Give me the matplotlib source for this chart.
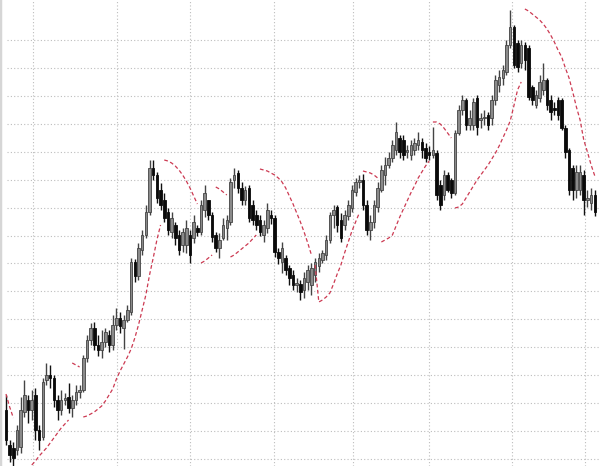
import numpy as np
import matplotlib
matplotlib.use("Agg")
import matplotlib.pyplot as plt

# OHLC (price units, grid step = 27.93)
opens = [90, 55, 52, 50, 53, 88, 100, 90, 105, 70,
         63, 120, 125, 122, 100, 90, 100, 103, 92, 100,
         108, 110, 142, 160, 172, 155, 150, 158, 165, 155,
         175, 182, 172, 180, 188, 238, 224, 250, 265, 288,
         332, 325, 310, 300, 288, 268, 275, 265, 255, 255,
         265, 262, 272, 268, 290, 300, 285, 265, 252, 262,
         272, 278, 320, 327, 312, 300, 312, 295, 285, 280,
         265, 272, 285, 282, 248, 238, 242, 232, 225, 215,
         216, 210, 218, 215, 225, 234, 240, 245, 260, 285,
         293, 280, 275, 284, 292, 308, 318, 320, 295, 270,
         278, 293, 310, 325, 335, 342, 350, 362, 360, 348,
         345, 350, 355, 358, 352, 348, 345, 347, 315, 305,
         325, 320, 307, 367, 390, 400, 375, 375, 402, 380,
         382, 385, 382, 400, 415, 422, 428, 455, 473, 457,
         437, 455, 452, 413, 395, 402, 410, 420, 400, 392,
         400, 400, 372, 350, 332, 310, 310, 325, 300, 297, 305]
closes = [60, 45, 42, 70, 90, 105, 90, 100, 70, 60,
          118, 125, 122, 100, 90, 100, 102, 92, 100, 108,
          110, 142, 160, 172, 155, 150, 158, 168, 155, 175,
          182, 174, 180, 190, 238, 224, 252, 265, 288, 332,
          325, 302, 295, 282, 270, 282, 262, 250, 268, 272,
          245, 278, 268, 295, 307, 285, 263, 252, 260, 275,
          280, 318, 325, 312, 300, 310, 282, 280, 275, 268,
          275, 290, 282, 248, 242, 252, 230, 222, 215, 217,
          208, 222, 230, 232, 238, 242, 247, 260, 285, 290,
          275, 262, 285, 295, 310, 318, 320, 295, 270, 278,
          295, 312, 330, 335, 342, 355, 368, 348, 345, 350,
          355, 357, 360, 350, 342, 345, 350, 305, 295, 325,
          310, 307, 367, 390, 400, 375, 382, 398, 373, 382,
          383, 375, 400, 420, 423, 430, 455, 473, 435, 433,
          455, 440, 403, 400, 405, 418, 420, 395, 388, 390,
          385, 372, 348, 310, 310, 328, 328, 300, 302, 305, 288]
highs = [105, 60, 58, 75, 103, 120, 105, 110, 112, 75,
         122, 137, 135, 125, 105, 110, 107, 117, 105, 115,
         115, 145, 165, 177, 178, 165, 170, 172, 170, 185,
         192, 188, 185, 195, 242, 241, 257, 270, 295, 340,
         340, 328, 317, 307, 292, 288, 278, 270, 272, 280,
         270, 285, 275, 300, 315, 300, 288, 268, 267, 282,
         285, 322, 332, 330, 318, 314, 315, 300, 290, 285,
         280, 297, 290, 285, 252, 258, 245, 235, 230, 222,
         220, 228, 235, 237, 242, 247, 250, 265, 288, 295,
         295, 287, 290, 300, 315, 322, 325, 326, 300, 285,
         300, 318, 335, 343, 348, 360, 378, 365, 365, 355,
         360, 362, 368, 362, 357, 354, 373, 350, 320, 330,
         328, 322, 370, 395, 405, 402, 390, 402, 405, 387,
         390, 388, 405, 425, 430, 435, 460, 490, 475, 460,
         460, 458, 455, 415, 410, 425, 437, 422, 405, 398,
         403, 402, 375, 352, 335, 335, 335, 330, 310, 312, 310]
lows = [55, 38, 34, 45, 47, 83, 77, 80, 60, 50,
        60, 115, 112, 93, 80, 85, 95, 87, 83, 95,
        102, 108, 138, 155, 150, 144, 142, 153, 148, 150,
        170, 167, 151, 178, 185, 218, 220, 245, 262, 285,
        320, 297, 290, 278, 265, 262, 255, 245, 248, 247,
        237, 257, 264, 265, 283, 280, 258, 248, 242, 260,
        260, 275, 312, 307, 295, 295, 278, 275, 270, 264,
        258, 267, 276, 243, 236, 227, 225, 215, 210, 208,
        200, 202, 210, 205, 218, 228, 237, 240, 257, 272,
        268, 258, 270, 280, 288, 304, 312, 290, 265, 260,
        272, 288, 308, 315, 332, 338, 345, 342, 340, 342,
        340, 345, 350, 342, 338, 340, 342, 300, 290, 300,
        308, 302, 305, 365, 385, 370, 370, 370, 365, 372,
        375, 370, 375, 395, 408, 415, 425, 452, 432, 428,
        432, 430, 400, 395, 392, 398, 405, 390, 380, 385,
        380, 370, 342, 305, 300, 302, 305, 285, 293, 290, 284]

nan = np.nan
# parabolic SAR values (dashed red), read per bar
sar = [106, 93, 82, 70, nan, nan, nan,
       35, 39, 44, 48, 52, 57, 62, 67, 72, 76, 80,
       137, 135, 133,
       83, 84, 86, 88, 91, 94, 99, 105, 111, 121, 129, 136, 143, 151, 162,
       175, 190, 205, 225, 242, 260, 275,
       340, 339, 337, 334, 330, 325, 319, 312, 304, 296,
       237, 239, 242, 245,
       313, 311, 308, 305,
       243, 245, 248, 251, 254, 257, 261, 265,
       331, 330, 329, 327, 325, 322, 318, 312, 304, 296, 287, 278, 268, 257,
       245, 235,
       198, 200, 203, 207, 216, 226, 235, 247, 258, 269, 278, 287,
       329, 328, 327, 325, 322,
       258, 260, 262, 265, 274, 283, 291, 299, 307, 314, 322, 328, 334, 339,
       378, 378, 376, 372, 367, 362,
       292, 293, 296, 302, 308, 314, 320, 325, 330, 335, 341, 347, 354, 362,
       370, 379, 394, 410, 418,
       491, 489, 486, 483, 480, 476, 471, 465, 458, 450, 443, 432, 422, 408,
       393, 380, 360, 348, 335, 324]

# period separators (vertical grid) in bar-index units
period_breaks = [7.3, 30.2, 50.0, 72.8, 94.3, 114.9, 137.5, 157.3]

o = np.array(opens, float)
c = np.array(closes, float)
h = np.array(highs, float)
l = np.array(lows, float)
s = np.array(sar, float)
idx = np.arange(len(o))

fig = plt.figure(figsize=(6, 4.66), dpi=100)
ax = fig.add_axes([0, 0, 1, 1])
ax.set_xlim(-1.63, 161.41)
ax.set_ylim(34, 500)

# grid
for gx in period_breaks:
    ax.axvline(gx, color="#bdbdbd", lw=0.8, ls=(0, (1, 2)), zorder=0)
for gy in 460 - 27.93 * np.arange(16):
    ax.axhline(gy, xmin=0.012, color="#bdbdbd", lw=0.8, ls=(0, (1, 2)), zorder=0)

up = c >= o
ax.vlines(idx[up], l[up], h[up], color="#444444", lw=1.0, zorder=2)
ax.vlines(idx[~up], l[~up], h[~up], color="#111111", lw=1.0, zorder=2)

body_lo = np.minimum(o, c)
body_h = np.maximum(np.abs(c - o), 1.5)
w = 0.7
ax.bar(idx[up], body_h[up], bottom=body_lo[up], width=w, color="#8a8a8a",
       edgecolor="#444444", linewidth=0.6, zorder=3)
ax.bar(idx[~up], body_h[~up], bottom=body_lo[~up], width=w, color="#0a0a0a",
       edgecolor="#0a0a0a", linewidth=0.6, zorder=3)

# split SAR into trend segments: above the bar vs below the bar
side = np.where(s > c, 1, -1)
start = 0
for i in range(1, len(s) + 1):
    if i == len(s) or side[i] != side[i - 1] or np.isnan(s[i]):
        seg = slice(start, i)
        ax.plot(idx[seg], s[seg], color="#cc3a52", lw=0.9, ls=(0, (3, 2)), zorder=4)
        start = i

ax.set_xticks([])
ax.set_yticks([])
for sp in ["top", "right", "bottom"]:
    ax.spines[sp].set_visible(False)
ax.spines["left"].set_color("#d6d6d6")
ax.spines["left"].set_linewidth(2.5)

fig.savefig("out.png", dpi=100)
